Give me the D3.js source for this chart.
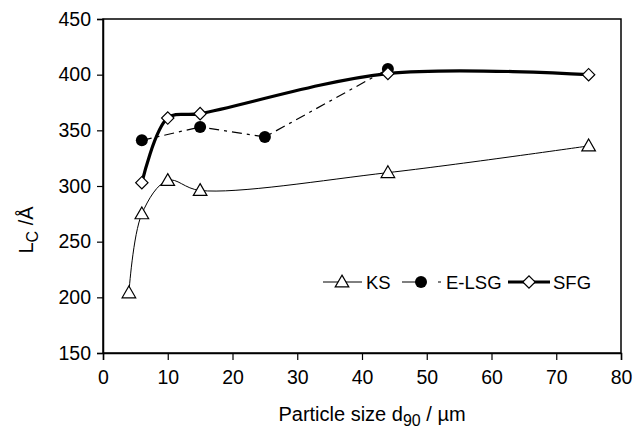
<!DOCTYPE html>
<meta charset="utf-8">
<script src="https://d3js.org/d3.v7.min.js"></script>
<style>
  body { margin: 0; background: #fff; }
  text { font-family: "Liberation Sans", Arial, sans-serif; fill: #000; }
</style>
<div id="my_dataviz"></div>
<script>
  // data
  var ksX = [4, 6, 10, 15, 44, 75];
  var ksY = [204, 275, 305, 296, 312, 336];
  var elsgX = [6, 15, 25, 44];
  var elsgY = [341, 353, 344, 405];
  var sfgX = [6, 10, 15, 44, 75];
  var sfgY = [303, 361, 365, 401, 400];
  var xTicks = [0, 10, 20, 30, 40, 50, 60, 70, 80];
  var yTicks = [150, 200, 250, 300, 350, 400, 450];

  var W = 637, H = 435;
  var margin = { top: 19, right: 16, bottom: 82, left: 103 };
  var width = W - margin.left - margin.right,
      height = H - margin.top - margin.bottom;

  var svg = d3.select("#my_dataviz")
    .append("svg")
    .attr("width", W)
    .attr("height", H);

  var g = svg.append("g")
    .attr("transform", "translate(" + margin.left + "," + margin.top + ")");

  var x = d3.scaleLinear().domain([0, 80]).range([0, width]);
  var y = d3.scaleLinear().domain([150, 450]).range([height, 0]);

  // frame
  g.append("rect")
    .attr("width", width).attr("height", height)
    .attr("fill", "none").attr("stroke", "#000").attr("stroke-width", 1.5);

  // axes
  var xAxis = g.append("g")
    .attr("transform", "translate(0," + height + ")")
    .call(d3.axisBottom(x).tickValues(xTicks).tickSize(7).tickPadding(10));
  var yAxis = g.append("g")
    .call(d3.axisLeft(y).tickValues(yTicks).tickSize(6).tickPadding(6));
  [xAxis, yAxis].forEach(function (a) {
    a.select(".domain").attr("stroke", "#000").attr("stroke-width", 1.5);
    a.selectAll(".tick line").attr("stroke", "#000").attr("stroke-width", 1.2);
    a.selectAll("text").style("font-size", "19.5px").attr("fill", "#000");
  });

  // axis titles
  var xt = svg.append("text")
    .attr("x", 372).attr("y", 421)
    .attr("text-anchor", "middle")
    .style("font-size", "20px");
  xt.append("tspan").text("Particle size d");
  xt.append("tspan").attr("dy", 5).style("font-size", "16px").text("90");
  xt.append("tspan").attr("dy", -5).text(" / \u00b5m");

  var yt = svg.append("text")
    .attr("transform", "translate(33,230) rotate(-90)")
    .attr("text-anchor", "middle")
    .style("font-size", "20px");
  yt.append("tspan").text("L");
  yt.append("tspan").attr("dy", 5).style("font-size", "16px").text("C");
  yt.append("tspan").attr("dy", -5).text(" /\u00c5");

  var smooth = d3.line()
    .x(function (d) { return x(d[0]); })
    .y(function (d) { return y(d[1]); })
    .curve(d3.curveCatmullRom.alpha(0.5));
  var straight = d3.line()
    .x(function (d) { return x(d[0]); })
    .y(function (d) { return y(d[1]); });

  var ks = d3.zip(ksX, ksY);
  var elsg = d3.zip(elsgX, elsgY);
  var sfg = d3.zip(sfgX, sfgY);

  // lines
  g.append("path").datum(ks).attr("d", smooth)
    .attr("fill", "none").attr("stroke", "#000").attr("stroke-width", 1);
  g.append("path").datum(elsg).attr("d", straight)
    .attr("fill", "none").attr("stroke", "#000").attr("stroke-width", 1.2)
    .attr("stroke-dasharray", "10,5,3,5");
  g.append("path").datum(sfg).attr("d", smooth)
    .attr("fill", "none").attr("stroke", "#000").attr("stroke-width", 3.2);

  var tri = d3.symbol().type(d3.symbolTriangle).size(80);
  var dia = d3.symbol().type(d3.symbolSquare).size(76);

  // markers
  g.selectAll("mycircle").data(elsg).enter().append("circle")
    .attr("cx", function (d) { return x(d[0]); })
    .attr("cy", function (d) { return y(d[1]); })
    .attr("r", 6).attr("fill", "#000");
  g.selectAll("mytri").data(ks).enter().append("path")
    .attr("d", tri)
    .attr("transform", function (d) { return "translate(" + x(d[0]) + "," + (y(d[1]) + 1) + ")"; })
    .attr("fill", "#fff").attr("stroke", "#000").attr("stroke-width", 1.2);
  g.selectAll("mydia").data(sfg).enter().append("path")
    .attr("d", dia)
    .attr("transform", function (d) { return "translate(" + x(d[0]) + "," + y(d[1]) + ") rotate(45)"; })
    .attr("fill", "#fff").attr("stroke", "#000").attr("stroke-width", 1.2);

  // legend
  var ly = 282;
  var leg = svg.append("g");
  leg.append("line").attr("x1", 323).attr("x2", 362).attr("y1", ly).attr("y2", ly)
    .attr("stroke", "#000").attr("stroke-width", 1);
  leg.append("path").attr("d", tri).attr("transform", "translate(342," + (ly + 1) + ")")
    .attr("fill", "#fff").attr("stroke", "#000").attr("stroke-width", 1.2);
  leg.append("text").attr("x", 366).attr("y", ly + 7).style("font-size", "18.5px").text("KS");

  leg.append("line").attr("x1", 402).attr("x2", 441).attr("y1", ly).attr("y2", ly)
    .attr("stroke", "#000").attr("stroke-width", 1.2).attr("stroke-dasharray", "24,12,3,6");
  leg.append("circle").attr("cx", 421).attr("cy", ly).attr("r", 6).attr("fill", "#000");
  leg.append("text").attr("x", 446).attr("y", ly + 7).style("font-size", "18.5px").text("E-LSG");

  leg.append("line").attr("x1", 508).attr("x2", 550).attr("y1", ly).attr("y2", ly)
    .attr("stroke", "#000").attr("stroke-width", 3.2);
  leg.append("path").attr("d", dia).attr("transform", "translate(529," + ly + ") rotate(45)")
    .attr("fill", "#fff").attr("stroke", "#000").attr("stroke-width", 1.2);
  leg.append("text").attr("x", 553).attr("y", ly + 7).style("font-size", "18.5px").text("SFG");
</script>
